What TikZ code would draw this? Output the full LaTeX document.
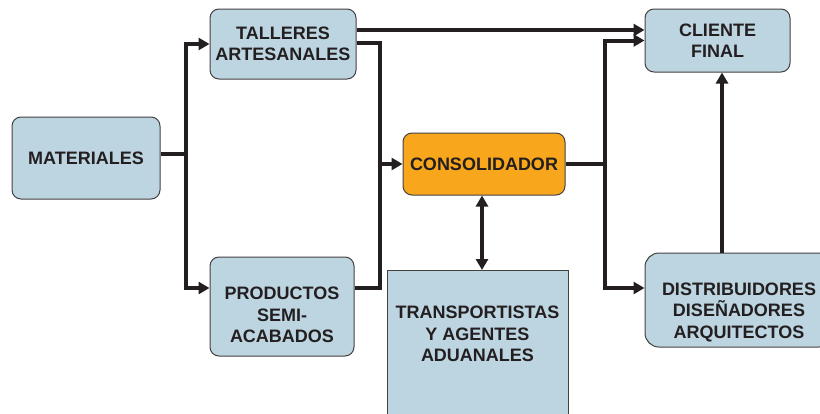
\documentclass[tikz,border=0pt]{standalone}
\usepackage{fontspec}
\setmainfont{Liberation Sans}
\usetikzlibrary{arrows.meta}
\definecolor{boxblue}{HTML}{BDD4E1}
\definecolor{boxorange}{HTML}{F8A71C}
\definecolor{ink}{HTML}{231F20}
\tikzset{
	box/.style={draw=ink!85, line width=1pt, fill=boxblue, rounded corners=9pt, align=center, font=\fontsize{18}{21.5}\selectfont\bfseries, text=ink, inner sep=0pt},
	boxtxt/.style={box, draw=none, fill=none},
	link/.style={draw=ink, line width=4pt},
	arr/.style={link, -{Triangle[length=11pt,width=12pt]}},
	dbl/.style={link, {Triangle[length=11pt,width=12pt]}-{Triangle[length=11pt,width=12pt]}}
}
\begin{document}
\begin{tikzpicture}[x=1pt,y=-1pt]
	\useasboundingbox (0,0) rectangle (820,413);
	\clip (0,0) rectangle (820,413);
	\node[box, minimum width=148, minimum height=82] (mat) at (86,158) {MATERIALES};
	\node[box, minimum width=146, minimum height=70] (tall) at (283,44) {TALLERES\\ARTESANALES};
	\node[box, minimum width=144, minimum height=99] (prod) at (282,306.5) {};
	\node[boxtxt] (prodtxt) at (282,315) {PRODUCTOS\\SEMI-\\ACABADOS};
	\node[box, fill=boxorange, minimum width=162, minimum height=62] (cons) at (484,164) {CONSOLIDADOR};
	\node[box, minimum width=145, minimum height=63] (cli) at (717.5,40.5) {CLIENTE\\FINAL};
	\node[box, rounded corners=14pt, minimum width=188, minimum height=94] (dist) at (739,300) {};
	\node[boxtxt] (disttxt) at (739,312) {DISTRIBUIDORES\\DISEÑADORES\\ARQUITECTOS};
	\node[box, sharp corners, minimum width=181, minimum height=170, anchor=north] (trans) at (477.5,270) {};
	\node[boxtxt] (transtxt) at (477.5,334) {TRANSPORTISTAS\\Y AGENTES\\ADUANALES};
	\coordinate (jmat) at (186,154);
	\coordinate (jcon) at (380,164);
	\coordinate (jout) at (605,164);
	\draw[link] (mat.east |- jmat) -- (jmat);
	\draw[arr] (jmat) |- (tall.west);
	\draw[arr] (jmat) |- (prod.west |- 0,288);
	\draw[arr] (tall.east |- 0,30) -- (cli.west |- 0,30);
	\draw[arr] (tall.east |- 0,43) -| (jcon) -- (cons.west);
	\draw[link] (prod.east |- 0,288) -| (jcon);
	\draw[link] (cons.east) -- (jout);
	\draw[arr] (jout) |- (cli.west);
	\draw[arr] (jout) |- (dist.west |- 0,288);
	\draw[arr] (dist.north -| 722,0) -- (cli.south -| 722,0);
	\draw[dbl] (cons.south -| 482,0) -- (trans.north -| 482,0);
\end{tikzpicture}
\end{document}
